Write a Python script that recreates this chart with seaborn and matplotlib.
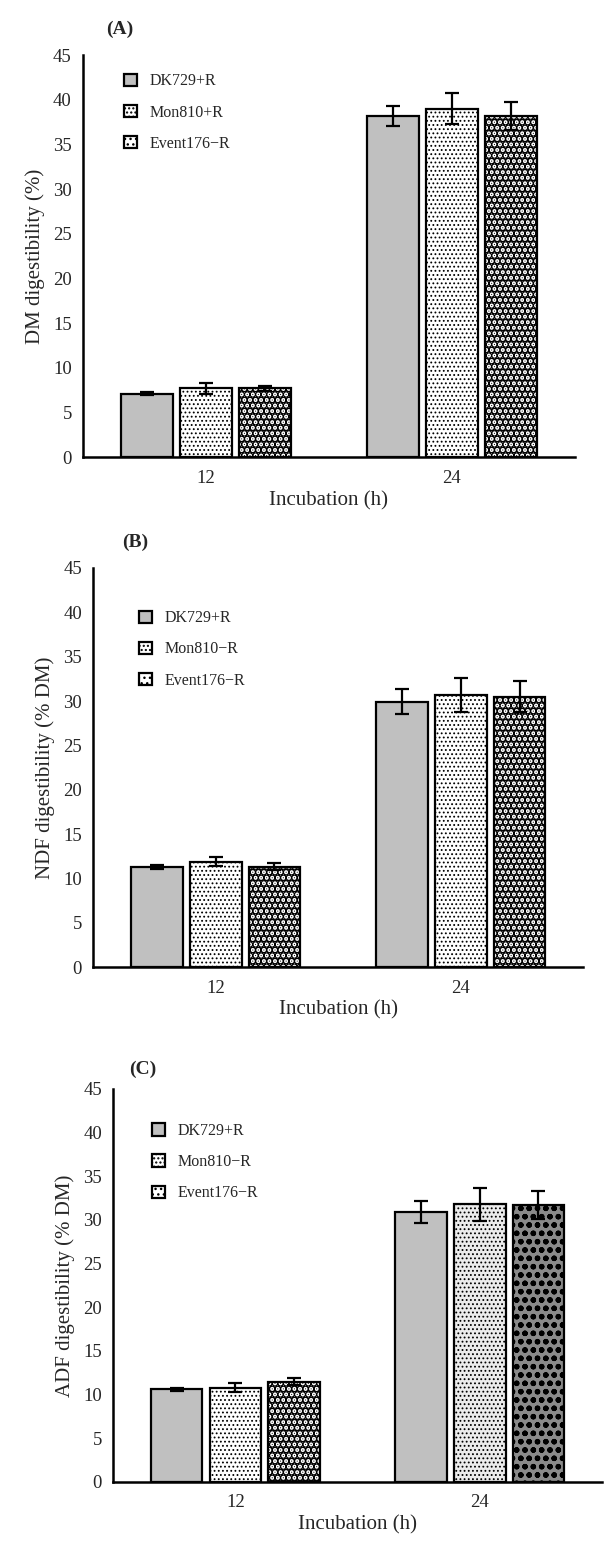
import numpy as np
import pandas as pd
import matplotlib
matplotlib.use("Agg")
import matplotlib.pyplot as plt
import matplotlib.patches as mpatches
import seaborn as sns

# ---- data ----
incubation = ["12", "24"]
treat_a = ["DK729+R", "Mon810+R", "Event176\u2212R"]
treat_bc = ["DK729+R", "Mon810\u2212R", "Event176\u2212R"]

# (A) DM digestibility (%)
dm_12 = [7.1, 7.7, 7.7]
dm_24 = [38.2, 39.0, 38.2]
dm_12_err = [0.2, 0.6, 0.3]
dm_24_err = [1.1, 1.7, 1.6]

# (B) NDF digestibility (% DM)
ndf_12 = [11.3, 11.9, 11.3]
ndf_24 = [29.9, 30.7, 30.5]
ndf_12_err = [0.2, 0.5, 0.4]
ndf_24_err = [1.4, 1.9, 1.7]

# (C) ADF digestibility (% DM)
adf_12 = [10.6, 10.8, 11.5]
adf_24 = [30.9, 31.8, 31.7]
adf_12_err = [0.2, 0.5, 0.4]
adf_24_err = [1.3, 1.9, 1.6]

yticks = [0, 5, 10, 15, 20, 25, 30, 35, 40, 45]

sns.set_style("white")
plt.rcParams['font.family'] = ['Liberation Serif', 'DejaVu Serif']
plt.rcParams['hatch.linewidth'] = 1.0


def make_df(treat, v12, v24, e12, e24):
    rows = []
    for i, t in enumerate(treat):
        rows.append({"inc": "12", "treat": t, "val": v12[i], "err": e12[i]})
        rows.append({"inc": "24", "treat": t, "val": v24[i], "err": e24[i]})
    return pd.DataFrame(rows)


styles = [
    dict(facecolor="#c0c0c0", hatch=None, hlw=1.0),
    dict(facecolor="white", hatch="....", hlw=0.8),
    dict(facecolor="white", hatch="...", hlw=3.8),
]


def panel(fig, rect, df, treat, ylabel, tag, tag_xy, leg_xy, c_special=False):
    ax = fig.add_axes(rect)
    sns.barplot(data=df, x="inc", y="val", hue="treat", order=incubation,
                hue_order=treat, errorbar=None, width=0.72, gap=0.12,
                edgecolor="black", linewidth=1.6, ax=ax, legend=False)
    bar_conts = list(ax.containers)
    for k, cont in enumerate(bar_conts):
        for j, p in enumerate(cont.patches):
            st = styles[k]
            fc = st["facecolor"]
            h = st["hatch"]
            hlw = st["hlw"]
            if c_special and j == 1 and k == 1:
                fc = "#ececec"
            if c_special and j == 1 and k == 2:
                fc = "#8a8a8a"
                h = "oo"
                hlw = 1.6
            p.set_facecolor(fc)
            p.set_edgecolor("black")
            if h:
                p.set_hatch(h)
                if hasattr(p, "set_hatch_linewidth"):
                    p.set_hatch_linewidth(hlw)
            sub = df[(df.treat == treat[k]) & (df.inc == incubation[j])]
            ax.errorbar(p.get_x() + p.get_width() / 2, p.get_height(),
                        yerr=sub["err"].values[0], color="black",
                        capsize=5, elinewidth=1.6, capthick=1.6, fmt="none")
    ax.set_xlim(-0.5, 1.5)
    ax.set_ylim(0, 45)
    ax.set_yticks(yticks)
    ax.tick_params(axis="y", direction="in", length=6, width=1.2,
                   labelsize=13.5, pad=8)
    ax.tick_params(axis="x", length=0, labelsize=13.5, pad=9)
    ax.set_xticks([0.5, 1.5], minor=True)
    ax.tick_params(axis="x", which="minor", length=4, width=4,
                   color="#a8a8a8", direction="in")
    for s in ["top", "right"]:
        ax.spines[s].set_visible(False)
    for s in ["left", "bottom"]:
        ax.spines[s].set_linewidth(1.8)
        ax.spines[s].set_color("black")
    ax.set_xlabel("Incubation (h)", fontsize=15, labelpad=3)
    ax.set_ylabel(ylabel, fontsize=15, labelpad=6)
    ax.text(tag_xy[0], tag_xy[1], tag, transform=ax.transAxes,
            fontsize=14, fontweight="bold", ha="center", va="center")
    handles = []
    for k, t in enumerate(treat):
        st = styles[k]
        handles.append(mpatches.Patch(facecolor=st["facecolor"],
                                      hatch=st["hatch"], edgecolor="black",
                                      linewidth=1.6, label=t))
    ax.legend(handles=handles, loc="upper left", bbox_to_anchor=leg_xy,
              frameon=False, fontsize=11.5, handlelength=0.8,
              handleheight=0.8, labelspacing=0.95, handletextpad=0.8)
    return ax


fig = plt.figure(figsize=(6.05, 15.51), dpi=100)

df_a = make_df(treat_a, dm_12, dm_24, dm_12_err, dm_24_err)
df_b = make_df(treat_bc, ndf_12, ndf_24, ndf_12_err, ndf_24_err)
df_c = make_df(treat_bc, adf_12, adf_24, adf_12_err, adf_24_err)

panel(fig, [0.137, 0.7053, 0.813, 0.2592], df_a, treat_a,
      "DM digestibility (%)", "(A)", (0.075, 1.065), (0.055, 0.99))
panel(fig, [0.154, 0.3765, 0.810, 0.2573], df_b, treat_bc,
      "NDF digestibility (% DM)", "(B)", (0.085, 1.065), (0.065, 0.93))
panel(fig, [0.187, 0.0445, 0.808, 0.2534], df_c, treat_bc,
      "ADF digestibility (% DM)", "(C)", (0.06, 1.05), (0.05, 0.95),
      c_special=True)

fig.savefig("out.png", dpi=100)
